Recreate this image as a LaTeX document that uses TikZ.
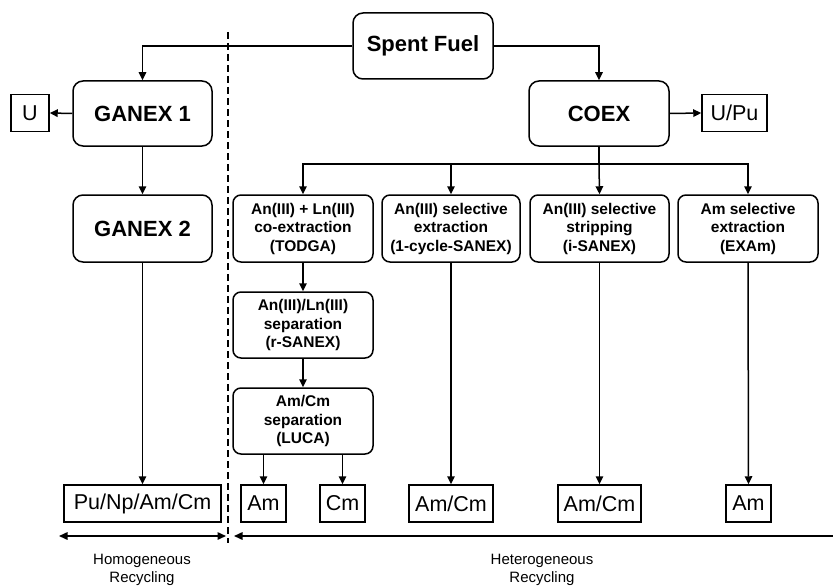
\documentclass[tikz,border=0pt]{standalone}
\usepackage{fontspec}
\setmainfont{Liberation Sans}
\usetikzlibrary{arrows.meta}
\begin{document}
\begin{tikzpicture}[x=1pt,y=-1pt,
  line width=1.5pt,
  arr/.style={-{Triangle[length=8pt,width=7.5pt]}},
  bigbox/.style={draw,rounded corners=10pt,inner sep=0pt,align=center,
    font=\fontsize{22}{26}\selectfont\bfseries},
  smallbox/.style={draw,rounded corners=8pt,inner sep=0pt,align=center,
    minimum width=139pt,minimum height=67pt,
    font=\fontsize{15.5}{18.5}\selectfont\bfseries},
  prod/.style={draw,inner sep=0pt,minimum height=37pt,
    font=\fontsize{21.5}{25}\selectfont},
  lab/.style={align=center,inner sep=0pt,font=\fontsize{15}{18}\selectfont}]
\useasboundingbox (0,0) rectangle (833,586);

% main boxes
\node[bigbox,minimum width=140pt,minimum height=66pt] (sf) at (423,46) {Spent Fuel};
\node[bigbox,minimum width=139pt,minimum height=65pt] (g1) at (142.5,113.5) {GANEX 1};
\node[bigbox,minimum width=140pt,minimum height=65pt] (coex) at (599,113.5) {COEX};
\node[bigbox,minimum width=139pt,minimum height=67pt] (g2) at (142.5,228.5) {GANEX 2};
\node[prod,minimum width=38pt] (u) at (30,113) {U};
\node[prod,minimum width=65pt] (upu) at (734.5,113) {U/Pu};

% process boxes
\node[smallbox,minimum width=140pt] (b1) at (303,228.5) {An(III) + Ln(III)\\co-extraction\\(TODGA)};
\node[smallbox,minimum width=138pt] (b2) at (451,228.5) {An(III) selective\\extraction\\(1-cycle-SANEX)};
\node[smallbox] (b3) at (599.5,228.5) {An(III) selective\\stripping\\(i-SANEX)};
\node[smallbox,minimum width=140pt] (b4) at (748,228.5) {Am selective\\extraction\\(EXAm)};
\node[smallbox,minimum width=140pt,minimum height=66pt] (b5) at (303,325) {An(III)/Ln(III)\\separation\\(r-SANEX)};
\node[smallbox,minimum width=140pt,minimum height=66pt] (b6) at (303,421) {Am/Cm\\separation\\(LUCA)};

% products
\node[prod,minimum width=157pt] (pnac) at (142.5,503.5) {Pu/Np/Am/Cm};
\node[prod,minimum width=45pt] (am1) at (263.5,503.5) {Am};
\node[prod,minimum width=45pt] (cm) at (342.5,503.5) {Cm};
\node[prod,minimum width=84pt] (amcm1) at (451,503.5) {Am/Cm};
\node[prod,minimum width=83pt] (amcm2) at (599.5,503.5) {Am/Cm};
\node[prod,minimum width=45pt] (am2) at (748.5,503.5) {Am};

% connectors
\draw[arr] (sf.west) -| (g1.north);
\draw[arr] (sf.east) -| (coex.north);
\draw[arr] (g1.west) -- (u.east);
\draw[arr] (coex.east) -- (upu.west);
\draw[arr] (g1.south) -- (g2.north);
\draw[arr] (g2.south) -- (pnac.north);

\coordinate (bus) at (599,164);
\draw (coex.south) -- (bus);
\draw[arr] (bus) -| (b1.north);
\draw[arr] (bus) -| (b2.north);
\draw[arr] (bus) -- (b3.north);
\draw[arr] (bus) -| (b4.north);

\draw[arr] (b1.south) -- (b5.north);
\draw[arr] (b5.south) -- (b6.north);
\draw[arr] (b6.south -| am1.north) -- (am1.north);
\draw[arr] (b6.south -| cm.north) -- (cm.north);
\draw[arr] (b2.south) -- (amcm1.north);
\draw[arr] (b3.south) -- (amcm2.north);
\draw[arr] (b4.south) -- (am2.north);

% divider
\coordinate (dtop) at (228,32);
\coordinate (dbot) at (228,543);
\draw[line width=1.3pt,dash pattern=on 7pt off 4pt] (dtop) -- (dbot);

% recycling ranges
\coordinate (hl) at (59,536);
\coordinate (hr) at (226,536);
\coordinate (el) at (234,536);
\coordinate (er) at (833,536);
\draw[{Triangle[length=8.5pt,width=7.5pt]}-{Triangle[length=8.5pt,width=7.5pt]}] (hl) -- (hr);
\draw[{Triangle[length=8.5pt,width=7.5pt]}-] (el) -- (er);

\node[lab] (homo) at (142,569.5) {Homogeneous\\Recycling};
\node[lab] (hetero) at (542,569.5) {Heterogeneous\\Recycling};
\end{tikzpicture}
\end{document}
